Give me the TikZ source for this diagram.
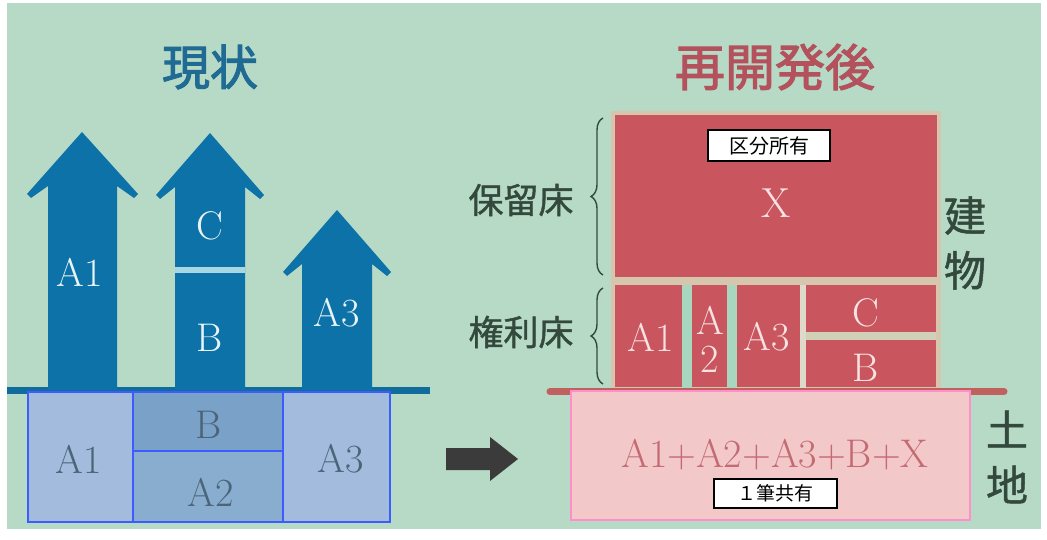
\documentclass[tikz,border=0pt]{standalone}
\usepackage{fontspec}
\newfontfamily\jp{Noto Sans CJK JP}
\newfontfamily\jptitle[FakeBold=2.2]{Noto Sans CJK JP}
\newfontfamily\jpside[FakeBold=1.2]{Noto Sans CJK JP}
\usetikzlibrary{decorations.pathreplacing}
\definecolor{bg}{HTML}{B6DAC5}
\definecolor{arrowblue}{HTML}{0C72A7}
\definecolor{lineblue}{HTML}{106C9A}
\definecolor{divlight}{HTML}{A8D6E2}
\definecolor{cellA}{HTML}{A3BBDD}
\definecolor{cellB}{HTML}{7AA2C8}
\definecolor{cellAtwo}{HTML}{88ADCF}
\definecolor{cellborder}{HTML}{3D5CFF}
\definecolor{basetext}{HTML}{4B6478}
\definecolor{lighttext}{HTML}{E8F4F7}
\definecolor{titleblue}{HTML}{1F6B94}
\definecolor{titlered}{HTML}{B3525C}
\definecolor{redblock}{HTML}{C9555E}
\definecolor{beige}{HTML}{D6C6AE}
\definecolor{gapmint}{HTML}{A9D6BF}
\definecolor{gaplight}{HTML}{DEDACA}
\definecolor{gapbeige}{HTML}{D0CFB8}
\definecolor{redline}{HTML}{C0605F}
\definecolor{landfill}{HTML}{F2C9C8}
\definecolor{landborder}{HTML}{FF8FC8}
\definecolor{landtext}{HTML}{C46A72}
\definecolor{pinktext}{HTML}{F7E2E2}
\definecolor{sidetext}{HTML}{34493D}
\definecolor{midarrow}{HTML}{3B3B3B}
\tikzset{
  upbar/.style={fill=arrowblue, draw=none},
  cell/.style={draw=cellborder, line width=1.5pt},
  redbox/.style={fill=redblock, draw=none},
  latinlabel/.style={font=\fontsize{40}{40}\selectfont, inner sep=0pt},
  onblue/.style={latinlabel, text=lighttext},
  onbase/.style={latinlabel, text=basetext},
  onred/.style={latinlabel, text=pinktext},
  sidelabel/.style={font=\jpside\fontsize{35}{35}\selectfont, text=sidetext, inner sep=0pt},
  vertlabel/.style={font=\jpside\fontsize{42}{55}\selectfont, text=sidetext, align=center, inner sep=0pt},
  tagbox/.style={draw=black, line width=1.3pt, fill=white, inner sep=0pt, font=\jp\fontsize{20}{20}\selectfont},
  bracestyle/.style={draw=sidetext, line width=1.4pt, decorate, decoration={brace, amplitude=12pt}},
}
\begin{document}
\begin{tikzpicture}[x=1pt, y=-1pt]
\useasboundingbox (0,0) rectangle (1047,540);
\fill[white] (0,0) rectangle (1047,540);
\fill[bg] (7,3) rectangle (1041,529);

% ---------- left: current state ----------
\node[font=\jptitle\fontsize{48}{48}\selectfont, text=titleblue, inner sep=0pt] (tleft) at (210,67) {現状};

\draw[line width=7pt, lineblue] (7,390) -- (430,390);

\fill[upbar] (82,132) -- (27,194) -- (31,198) -- (48,186) -- (48,390) -- (117,390) -- (117,186) -- (134,198) -- (138,194) -- cycle;
\fill[upbar] (210,133) -- (156,195) -- (160,199) -- (175,187) -- (175,390) -- (245,390) -- (245,187) -- (260,199) -- (264,195) -- cycle;
\fill[upbar] (337,210) -- (283,272) -- (287,276) -- (302,264) -- (302,390) -- (372,390) -- (372,264) -- (387,276) -- (391,272) -- cycle;
\fill[divlight] (175,267) rectangle (245,273);

\node[onblue] (upa1) at (80,272) {A1};
\node[onblue] (upc) at (210,226) {C};
\node[onblue] (upb) at (210,338) {B};
\node[onblue] (upa3) at (337,313) {A3};

\draw[cell, fill=cellA] (28,392) rectangle (133,522);
\draw[cell, fill=cellB] (133,392) rectangle (283,451);
\draw[cell, fill=cellAtwo] (133,451) rectangle (283,522);
\draw[cell, fill=cellA] (283,392) rectangle (390,522);
\node[onbase] (lnda1) at (79,459) {A1};
\node[onbase] (lndb) at (209,425) {B};
\node[onbase] (lnda2) at (211,492) {A2};
\node[onbase] (lnda3) at (341,459) {A3};

% ---------- middle arrow ----------
\fill[midarrow] (446,448) -- (490,448) -- (490,437) -- (518,459) -- (490,481) -- (490,470) -- (446,470) -- cycle;

% ---------- right: after redevelopment ----------
\node[font=\jptitle\fontsize{50}{50}\selectfont, text=titlered, inner sep=0pt] (tright) at (775,67) {再開発後};

\draw[line width=7pt, redline, line cap=round] (550,391.5) -- (1004,391.5);

\fill[beige] (611,111) rectangle (941,388);
\fill[redbox] (615,115) rectangle (937,277);
\fill[redbox] (615,285) rectangle (682,387);
\fill[redbox] (692,285) rectangle (727,387);
\fill[redbox] (737,285) rectangle (800,387);
\fill[redbox] (806,285) rectangle (936,332);
\fill[redbox] (806,340) rectangle (936,387);
\fill[gapmint] (682,285) rectangle (692,388);
\fill[gapmint] (727,285) rectangle (737,388);
\fill[gaplight] (800,285) rectangle (806,388);
\fill[gapbeige] (806,332) rectangle (936,340);

\node[tagbox, minimum width=122pt, minimum height=31pt] (kubun) at (769,145.5) {区分所有};
\node[latinlabel, font=\fontsize{42}{42}\selectfont, text=pinktext] (xlab) at (776,203) {X};
\node[onred] (ra1) at (651,337) {A1};
\node[onred, align=center, font=\fontsize{40}{38}\selectfont] (ra2) at (710,339) {A\\2};
\node[onred] (ra3) at (767,337) {A3};
\node[onred] (rc) at (866,313) {C};
\node[onred] (rb) at (866,368) {B};

\draw[line width=1.5pt, draw=landborder, fill=landfill] (571,391) rectangle (970,520);
\node[latinlabel, text=landtext] (landsum) at (775,455) {A1+A2+A3+B+X};
\node[tagbox, font=\jp\fontsize{19}{19}\selectfont, minimum width=123pt, minimum height=29pt] (kyoyu) at (775.5,493.5) {１筆共有};

\node[sidelabel] (horyu) at (521,200) {保留床};
\node[sidelabel] (kenri) at (521,332) {権利床};
\draw[bracestyle] (603,275) -- (603,118);
\draw[bracestyle] (603,384) -- (603,288);

\node[vertlabel] (tatemono) at (965,243) {建\\物};
\node[vertlabel] (tochi) at (1007,457) {土\\地};
\end{tikzpicture}
\end{document}
